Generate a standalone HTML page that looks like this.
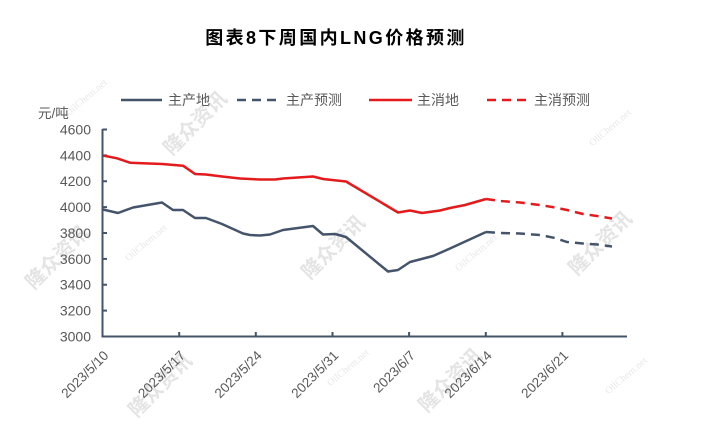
<!DOCTYPE html>
<html>
<head>
<meta charset="utf-8">
<style>
  html,body{margin:0;padding:0;background:#fff;}
  svg{display:block;}
  .cn{font-family:"Liberation Sans","Noto Sans CJK SC",sans-serif;}
</style>
</head>
<body>
<svg width="710" height="424" viewBox="0 0 710 424" xmlns="http://www.w3.org/2000/svg" class="cn">
  <rect width="710" height="424" fill="#fff"/>

  <!-- watermarks -->
  <g fill="#e4e4e4" font-family="Liberation Sans, Noto Sans CJK SC, sans-serif" font-weight="bold" font-size="20">
    <text transform="translate(200,128) rotate(-45)" text-anchor="middle">隆众资讯</text>
    <text transform="translate(62,262) rotate(-45)" text-anchor="middle">隆众资讯</text>
    <text transform="translate(338,252) rotate(-45)" text-anchor="middle">隆众资讯</text>
    <text transform="translate(605,248) rotate(-45)" text-anchor="middle">隆众资讯</text>
    <text transform="translate(165,390) rotate(-45)" text-anchor="middle">隆众资讯</text>
    <text transform="translate(455,385) rotate(-45)" text-anchor="middle">隆众资讯</text>
  </g>
  <g fill="#e8e8e8" font-family="Liberation Serif, serif" font-size="10">
    <text transform="translate(88,100) rotate(-40)" text-anchor="middle">OilChem.net</text>
    <text transform="translate(612,130) rotate(-40)" text-anchor="middle">OilChem.net</text>
    <text transform="translate(148,245) rotate(-40)" text-anchor="middle">OilChem.net</text>
    <text transform="translate(478,255) rotate(-40)" text-anchor="middle">OilChem.net</text>
    <text transform="translate(350,370) rotate(-40)" text-anchor="middle">OilChem.net</text>
    <text transform="translate(628,378) rotate(-40)" text-anchor="middle">OilChem.net</text>
  </g>

  <!-- title -->
  <text x="336" y="44" text-anchor="middle" font-size="18" font-weight="bold" fill="#000" letter-spacing="2.4">图表8下周国内LNG价格预测</text>

  <!-- legend -->
  <g font-size="14" fill="#595959">
    <line x1="121" y1="100" x2="162" y2="100" stroke="#44546A" stroke-width="2.5"/>
    <text x="168" y="105">主产地</text>
    <line x1="237" y1="100" x2="281" y2="100" stroke="#44546A" stroke-width="2.5" stroke-dasharray="9 6"/>
    <text x="286" y="105">主产预测</text>
    <line x1="369" y1="100" x2="412" y2="100" stroke="#e41a1c" stroke-width="2.5"/>
    <text x="417" y="105">主消地</text>
    <line x1="487" y1="100" x2="528" y2="100" stroke="#e41a1c" stroke-width="2.5" stroke-dasharray="9 6"/>
    <text x="534" y="105">主消预测</text>
  </g>

  <!-- unit -->
  <text x="38" y="118" font-size="13.5" fill="#595959">元/吨</text>

  <!-- y labels -->
  <g font-size="14" fill="#595959" text-anchor="end">
    <text x="91" y="134.5">4600</text>
    <text x="91" y="160.4">4400</text>
    <text x="91" y="186.2">4200</text>
    <text x="91" y="212.1">4000</text>
    <text x="91" y="238">3800</text>
    <text x="91" y="263.9">3600</text>
    <text x="91" y="289.7">3400</text>
    <text x="91" y="315.6">3200</text>
    <text x="91" y="341.5">3000</text>
  </g>

  <!-- axes -->
  <g stroke="#44546A" stroke-width="2" fill="none">
    <line x1="102.5" y1="129" x2="102.5" y2="337.5"/>
    <line x1="101.5" y1="336.5" x2="627" y2="336.5"/>
    <!-- y ticks -->
    <line x1="102.5" y1="129.5" x2="107" y2="129.5"/>
    <line x1="102.5" y1="155.4" x2="107" y2="155.4"/>
    <line x1="102.5" y1="181.25" x2="107" y2="181.25"/>
    <line x1="102.5" y1="207.1" x2="107" y2="207.1"/>
    <line x1="102.5" y1="233" x2="107" y2="233"/>
    <line x1="102.5" y1="258.9" x2="107" y2="258.9"/>
    <line x1="102.5" y1="284.75" x2="107" y2="284.75"/>
    <line x1="102.5" y1="310.6" x2="107" y2="310.6"/>
    <!-- x ticks -->
    <line x1="179.2" y1="336.5" x2="179.2" y2="332"/>
    <line x1="255.8" y1="336.5" x2="255.8" y2="332"/>
    <line x1="332.5" y1="336.5" x2="332.5" y2="332"/>
    <line x1="409.1" y1="336.5" x2="409.1" y2="332"/>
    <line x1="485.8" y1="336.5" x2="485.8" y2="332"/>
    <line x1="562.4" y1="336.5" x2="562.4" y2="332"/>
  </g>

  <!-- x labels -->
  <g font-size="13.5" fill="#595959" text-anchor="end">
    <text transform="translate(106,353) rotate(-45)" dy="0.35em">2023/5/10</text>
    <text transform="translate(182.7,353) rotate(-45)" dy="0.35em">2023/5/17</text>
    <text transform="translate(259.3,353) rotate(-45)" dy="0.35em">2023/5/24</text>
    <text transform="translate(336,353) rotate(-45)" dy="0.35em">2023/5/31</text>
    <text transform="translate(412.6,353) rotate(-45)" dy="0.35em">2023/6/7</text>
    <text transform="translate(489.3,353) rotate(-45)" dy="0.35em">2023/6/14</text>
    <text transform="translate(565.9,353) rotate(-45)" dy="0.35em">2023/6/21</text>
  </g>

  <!-- series -->
  <g fill="none" stroke-width="2.5" stroke-linejoin="round" stroke-linecap="butt">
    <polyline stroke="#e41a1c" points="103,155.5 117,158.3 130,162.7 162,164 183,165.7 195,174 206,174.5 222,176.5 240,178.5 260,179.5 275,179.5 283,178.5 313,176.5 323,179 346,181.5 398,212.5 410,210.5 422,213 440,210.5 450,208 465,205 486,199"/>
    <polyline stroke="#e41a1c" stroke-dasharray="9 6" points="486,199 500,201 520,202.5 540,205 555,207.5 567,210 583,214 597,216 612,218.5"/>
    <polyline stroke="#44546A" points="103,209.5 118,213 133,207.5 162,202.5 173,210 183,210 195,218 206,218 222,224 243,233.5 250,235 260,235.5 270,234.5 283,230 313,226 323,234.5 335,234 346,237 388,271.5 398,270 410,262 433,256 450,248.5 486,232"/>
    <polyline stroke="#44546A" stroke-dasharray="9 6" points="486,232 500,233 520,233.5 540,235 555,238 567,242 583,243.5 597,244.5 612,246.5"/>
  </g>
</svg>
</body>
</html>
